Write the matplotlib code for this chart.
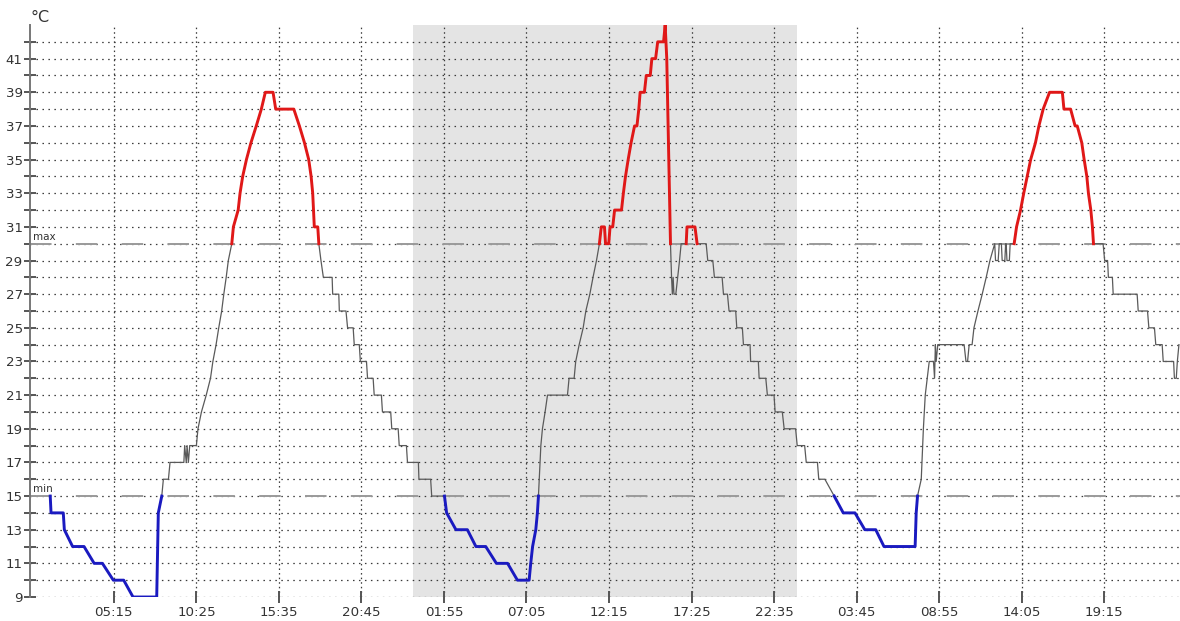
import numpy as np
import matplotlib
matplotlib.use("Agg")
import matplotlib.pyplot as plt

# readings, minutes from 00:00 of the first day
day1_min = [76, 79, 125, 129, 160, 203, 241, 272, 313, 352, 387, 476, 482, 495, 501, 520, 526,
            578, 581, 587, 590, 595, 600, 625, 631, 644, 662, 678, 687, 699, 709, 720, 728, 737,
            745, 758, 764, 782, 789, 799, 813, 830, 850, 869, 884, 913, 923, 991, 1012, 1031,
            1047, 1056, 1062, 1065, 1068, 1081, 1085, 1093, 1102, 1135, 1137, 1160, 1162, 1187,
            1193, 1214, 1218, 1237, 1241, 1264, 1268, 1289, 1293, 1320, 1324, 1355, 1359, 1383,
            1387, 1414, 1418]
day1_temp = [15, 14, 14, 13, 12, 12, 11, 11, 10, 10, 9, 9, 14, 15, 16, 16, 17,
             17, 18, 17, 18, 17, 18, 18, 19, 20, 21, 22, 23, 24, 25, 26, 27, 28,
             29, 30, 31, 32, 33, 34, 35, 36, 37, 38, 39, 39, 38, 38, 37, 36,
             35, 34, 33, 32, 31, 31, 30, 29, 28, 28, 27, 27, 26, 26,
             25, 25, 24, 24, 23, 23, 22, 22, 21, 21, 20, 20, 19, 19,
             18, 18, 17]

day2_min = [1459, 1461, 1505, 1509, 1557, 1565, 1600, 1643, 1675, 1712, 1752, 1794, 1831, 1875,
            1881, 1888, 1900, 1906, 1910, 1913, 1919, 1925, 1935, 1944, 2019, 2025, 2044, 2050,
            2063, 2078, 2088, 2103, 2115, 2128, 2139, 2146, 2158, 2162, 2174, 2179, 2189, 2196,
            2222, 2229, 2237, 2247, 2258, 2271, 2280, 2287, 2292, 2308, 2315, 2330, 2336, 2350,
            2358, 2380, 2386, 2392, 2406, 2410, 2413, 2416, 2419, 2426, 2440, 2446, 2465, 2468,
            2498, 2506, 2540, 2546, 2565, 2571, 2600, 2605, 2620, 2626, 2651, 2655, 2676, 2680,
            2705, 2707, 2736, 2739, 2764, 2770, 2795, 2799, 2826, 2833, 2876]
day2_temp = [17, 16, 16, 15, 15, 14, 13, 13, 12, 12, 11, 11, 10, 10,
             11, 12, 13, 14, 15, 16, 18, 19, 20, 21, 21, 22, 22, 23,
             24, 25, 26, 27, 28, 29, 30, 31, 31, 30, 30, 31, 31, 32,
             32, 33, 34, 35, 36, 37, 37, 38, 39, 39, 40, 40, 41, 41,
             42, 42, 43, 41, 30, 28, 27, 28, 27, 27, 29, 30, 30, 31,
             31, 30, 30, 29, 29, 28, 28, 27, 27, 26, 26, 25, 25, 24,
             24, 23, 23, 22, 22, 21, 21, 20, 20, 19, 19]

day3_min = [2882, 2910, 2916, 2958, 2963, 2986, 3021, 3055, 3099, 3136, 3177, 3208, 3325, 3329,
            3334, 3348, 3356, 3363, 3378, 3394, 3398, 3401, 3404, 3410, 3509, 3516, 3522, 3528,
            3539, 3546, 3561, 3577, 3592, 3606, 3624, 3627, 3637, 3641, 3649, 3652, 3662, 3665,
            3667, 3670, 3679, 3682, 3697, 3706, 3721, 3733, 3746, 3759, 3777, 3790, 3806, 3830,
            3878, 3884, 3909, 3926, 3934, 3951, 3960, 3970, 3976, 3985, 3991, 3995, 4031, 4037,
            4048, 4051, 4066, 4069, 4159, 4163, 4198, 4203, 4224, 4229, 4253, 4257, 4296, 4299,
            4306, 4310, 4316]
day3_temp = [18, 18, 17, 17, 16, 16, 15, 14, 14, 13, 13, 12, 12, 14,
             15, 16, 19, 21, 23, 23, 22, 24, 23, 24, 24, 23, 23, 24,
             24, 25, 26, 27, 28, 29, 30, 29, 29, 30, 30, 29, 29, 30,
             30, 29, 29, 30, 30, 31, 32, 33, 34, 35, 36, 37, 38, 39,
             39, 38, 38, 37, 37, 36, 35, 34, 33, 32, 31, 30, 30, 29,
             29, 28, 28, 27, 27, 26, 26, 25, 25, 24, 24, 23, 23, 22,
             22, 23, 24]

t_max = 30
t_min = 15
tick_labels = ["05:15", "10:25", "15:35", "20:45", "01:55", "07:05", "12:15",
               "17:25", "22:35", "03:45", "08:55", "14:05", "19:15"]
shaded_day = (1440, 2880)

t = np.array(day1_min + day2_min + day3_min, dtype=float)
v = np.array(day1_temp + day2_temp + day3_temp, dtype=float)

# tick positions from the labels, a new day each time the clock wraps
tick_pos = []
day = 0
prev = -1
for lab in tick_labels:
    h, m = lab.split(":")
    mm = int(h) * 60 + int(m)
    if mm < prev:
        day += 1
    prev = mm
    tick_pos.append(day * 1440 + mm)


def band(vals, limit, above):
    if above:
        core, edge = vals > limit, vals >= limit
    else:
        core, edge = vals < limit, vals <= limit
    keep = core.copy()
    keep[1:] |= core[:-1] & edge[1:]
    keep[:-1] |= core[1:] & edge[:-1]
    return np.ma.masked_where(~keep, vals)


plt.rcParams["lines.scale_dashes"] = False
plt.rcParams["font.family"] = "DejaVu Sans"

fig = plt.figure(figsize=(11.8, 6.21), dpi=100)
ax = fig.add_axes([30 / 1180, 24 / 621, 1150 / 1180, 572 / 621])
ax.set_xlim(0, 4320)
ax.set_ylim(9, 43)

ax.axvspan(shaded_day[0], shaded_day[1], color="#e4e4e4", zorder=0, lw=0)

for yv in range(9, 43):
    ax.axhline(yv, color="#3a3a3a", lw=0.9, ls=(0, (1.1, 3.2)), zorder=1)
for xv in tick_pos:
    ax.axvline(xv, color="#3a3a3a", lw=0.9, ls=(0, (1.1, 2.2)), zorder=1)

for lim, name in ((t_max, "max"), (t_min, "min")):
    ax.axhline(lim, color="#9a9a9a", lw=1.4, ls=(0, (15.5, 17.5)), zorder=2)
    ax.text(0.003, lim + 0.1, name, transform=ax.get_yaxis_transform(),
            fontsize=7.5, color="#333333", ha="left", va="bottom")

ax.plot(t, v, color="#5a5a5a", lw=0.9, zorder=3)
ax.plot(t, band(v, t_max, True), color="#e01818", lw=2.1, zorder=4)
ax.plot(t, band(v, t_min, False), color="#1a1ac0", lw=2.1, zorder=4)

ax.set_yticks(range(9, 42, 2))
ax.set_yticks(range(10, 43, 2), minor=True)
ax.set_xticks(tick_pos)
ax.set_xticklabels(tick_labels)
ax.tick_params(axis="both", which="both", direction="inout", length=8.5, width=1.4,
               color="#555555", labelcolor="#333333", labelsize=9.6)
ax.tick_params(axis="x", pad=2)
ax.tick_params(axis="y", pad=1)

for s in ("top", "right", "bottom"):
    ax.spines[s].set_visible(False)
ax.spines["left"].set_color("#777777")
ax.spines["left"].set_linewidth(1.4)

fig.text(30 / 1180, 1 - 17 / 621, "°C", fontsize=11.5, color="#333333", ha="left", va="center")

fig.savefig("out.png", dpi=100)
